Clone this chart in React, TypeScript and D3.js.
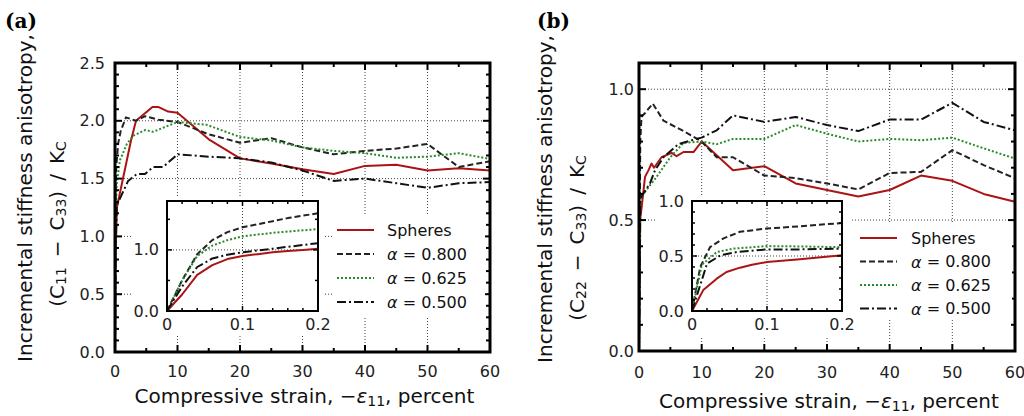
import React from 'react';
import * as d3 from 'd3';

type P = [number, number];

// ---------- data: panel (a) main ----------
const aSpheres: P[] = [[0,0],[0.1,0.9],[0.2,1.02],[0.3,1.25],[2.56,1.83],[3.36,2.0],[6.0,2.12],[6.9,2.12],[8.5,2.08],[10,2.07],[15,1.84],[20,1.675],[25,1.63],[30,1.58],[35,1.54],[40,1.61],[45,1.62],[50,1.57],[55,1.59],[60,1.57]];
const aAlpha800: P[] = [[0,0],[0.1,1.37],[0.2,1.6],[0.5,1.8],[0.9,1.91],[1.76,2.03],[3.36,2.0],[4.8,2.04],[6.9,2.01],[10,1.99],[14.9,1.885],[20,1.81],[25,1.85],[30,1.77],[35,1.71],[40,1.74],[45,1.76],[50,1.8],[55,1.6],[60,1.65]];
const aAlpha625: P[] = [[0,0],[0.1,1.22],[0.2,1.34],[0.3,1.47],[0.8,1.66],[1.9,1.8],[2.9,1.87],[4.8,1.92],[6.1,1.905],[10,1.99],[14.7,1.965],[20,1.86],[25,1.83],[30,1.77],[35,1.74],[40,1.72],[45,1.68],[50,1.69],[55,1.72],[60,1.67]];
const aAlpha500: P[] = [[0,0],[0.1,0.96],[0.2,1.11],[0.3,1.27],[2.1,1.48],[3.5,1.54],[4.8,1.54],[6.1,1.6],[7.7,1.6],[10,1.71],[15,1.69],[20,1.675],[25,1.64],[30,1.57],[35,1.48],[40,1.5],[45,1.46],[50,1.42],[55,1.46],[60,1.47]];

// ---------- data: panel (a) inset ----------
const aInSpheres: P[] = [[0,0],[0.02,0.27],[0.04,0.59],[0.06,0.75],[0.08,0.85],[0.1,0.9],[0.12,0.93],[0.14,0.96],[0.16,0.98],[0.18,1.0],[0.2,1.02]];
const aIn800: P[] = [[0,0],[0.02,0.5],[0.04,0.93],[0.06,1.16],[0.08,1.29],[0.1,1.37],[0.12,1.42],[0.14,1.47],[0.16,1.52],[0.18,1.56],[0.2,1.6]];
const aIn625: P[] = [[0,0],[0.02,0.5],[0.04,0.9],[0.06,1.07],[0.08,1.16],[0.1,1.22],[0.12,1.25],[0.14,1.28],[0.16,1.3],[0.18,1.32],[0.2,1.34]];
const aIn500: P[] = [[0,0],[0.02,0.4],[0.04,0.72],[0.06,0.86],[0.08,0.92],[0.1,0.96],[0.12,0.99],[0.14,1.02],[0.16,1.05],[0.18,1.08],[0.2,1.11]];

// ---------- data: panel (b) main ----------
const bSpheres: P[] = [[0,0],[0.2,0.506],[0.43,0.55],[0.96,0.665],[1.5,0.69],[2.0,0.716],[2.4,0.7],[3.6,0.74],[5.2,0.757],[6.0,0.744],[7.1,0.76],[8.7,0.76],[10,0.8],[15,0.69],[20,0.706],[25,0.64],[30,0.615],[35,0.59],[40,0.615],[45,0.67],[50,0.65],[55,0.6],[60,0.57]];
const bAlpha800: P[] = [[0,0],[0.2,0.8],[0.4,0.894],[1,0.91],[2.2,0.945],[3.9,0.88],[7.1,0.84],[10,0.8],[12.4,0.74],[15,0.74],[20,0.67],[25,0.66],[30,0.64],[35,0.617],[40,0.68],[45,0.684],[50,0.767],[55,0.71],[60,0.66]];
const bAlpha625: P[] = [[0,0],[0.2,0.58],[0.7,0.6],[2.8,0.665],[5,0.74],[7.1,0.795],[10,0.8],[12.4,0.79],[15,0.81],[20,0.81],[25,0.863],[30,0.83],[35,0.8],[40,0.81],[45,0.805],[50,0.815],[55,0.774],[60,0.735]];
const bAlpha500: P[] = [[0,0],[0.2,0.567],[0.4,0.59],[1.75,0.64],[2.55,0.69],[3.9,0.74],[6.3,0.79],[8.4,0.805],[10,0.815],[12.4,0.843],[15,0.9],[20,0.875],[25,0.894],[30,0.863],[35,0.84],[40,0.884],[45,0.884],[50,0.948],[55,0.875],[60,0.843]];

// ---------- data: panel (b) inset ----------
const bInSpheres: P[] = [[0,0],[0.015,0.19],[0.033,0.294],[0.046,0.355],[0.064,0.394],[0.08,0.42],[0.1,0.445],[0.144,0.47],[0.2,0.506]];
const bIn800: P[] = [[0,0],[0.011,0.4],[0.024,0.58],[0.042,0.66],[0.064,0.72],[0.1,0.75],[0.144,0.77],[0.2,0.8]];
const bIn625: P[] = [[0,0],[0.013,0.42],[0.033,0.536],[0.055,0.567],[0.1,0.59],[0.144,0.587],[0.2,0.58]];
const bIn500: P[] = [[0,0],[0.02,0.43],[0.038,0.506],[0.06,0.536],[0.1,0.56],[0.144,0.56],[0.2,0.567]];

// ---------- ticks & labels ----------
const mainXTicks = [0, 10, 20, 30, 40, 50, 60];
const aMainYTicks = [0, 0.5, 1.0, 1.5, 2.0, 2.5];
const bMainYTicks = [0, 0.5, 1.0];
const insetXTicks = [0, 0.1, 0.2];
const aInsetYLabels = [0, 1.0];
const bInsetYLabels = [0, 0.5, 1.0];
const legendLabels = ['Spheres', '0.800', '0.625', '0.500'];

const FONT = 'DejaVu Sans, sans-serif';

const STYLES = [
  { stroke: '#aa1414', dash: undefined as string | undefined, width: 2 },
  { stroke: '#222222', dash: '6,3', width: 2 },
  { stroke: '#2a8a2a', dash: '2,2', width: 2 },
  { stroke: '#111111', dash: '9,3,2,3', width: 2 },
];

function Ticks({ xs, ys, xMajor, xMinor, yMajor, yMinor, maj, min, w }: any) {
  const [x0, x1] = xs.range();
  const [y0, y1] = ys.range();
  const out: any[] = [];
  const push = (k: string, a: number, b: number, c: number, d: number) =>
    out.push(<line key={k} x1={a} y1={b} x2={c} y2={d} stroke="#000" strokeWidth={w} />);
  xMinor.forEach((v: number, i: number) => {
    const L = xMajor.some((m: number) => Math.abs(m - v) < 1e-9) ? maj : min;
    const x = xs(v);
    push('xb' + i, x, y0, x, y0 - L);
    push('xt' + i, x, y1, x, y1 + L);
  });
  yMinor.forEach((v: number, i: number) => {
    const L = yMajor.some((m: number) => Math.abs(m - v) < 1e-9) ? maj : min;
    const y = ys(v);
    push('yl' + i, x0, y, x0 + L, y);
    push('yr' + i, x1, y, x1 - L, y);
  });
  return <g>{out}</g>;
}

function Series({ data, xs, ys, idx }: any) {
  const line = d3.line<P>().x(d => xs(d[0])).y(d => ys(d[1]));
  const s = STYLES[idx];
  return <path d={line(data) || ''} fill="none" stroke={s.stroke} strokeWidth={s.width} strokeDasharray={s.dash} strokeLinejoin="round" />;
}

function Legend({ x, y0, dy, textX }: any) {
  return (
    <g fontFamily={FONT} fontSize={16} fill="#111">
      {legendLabels.map((lab, i) => {
        const s = STYLES[i];
        const y = y0 + i * dy;
        return (
          <g key={i}>
            <line x1={x} x2={x + 37} y1={y} y2={y} stroke={s.stroke} strokeWidth={s.width} strokeDasharray={s.dash} />
            <text x={textX} y={y} dominantBaseline="central">
              {i === 0 ? lab : (<><tspan fontStyle="italic">α</tspan>{' = ' + lab}</>)}
            </text>
          </g>
        );
      })}
    </g>
  );
}

function Panel({ cfg }: any) {
  const xs = d3.scaleLinear().domain([0, 60]).range([cfg.x0, cfg.x1]);
  const ys = d3.scaleLinear().domain([0, cfg.ymax]).range([cfg.y0, cfg.y1]);
  const ixs = d3.scaleLinear().domain([0, 0.2]).range([cfg.ix0, cfg.ix1]);
  const iys = d3.scaleLinear().domain([0, cfg.iymax]).range([cfg.iy0, cfg.iy1]);
  const fmt1 = d3.format('.1f');
  const gridX = [10, 20, 30, 40, 50];
  const gridY = cfg.yTicks.filter((v: number) => v > 0 && v < cfg.ymax - 1e-9);
  const yMinor = d3.range(0, cfg.ymax + 1e-9, 0.1).map((v: number) => +v.toFixed(3));
  const xMinor = d3.range(0, 60.001, 5);
  const ixMinor = d3.range(0, 0.2001, 0.02).map((v: number) => +v.toFixed(3));
  const iyMinor = d3.range(0, cfg.iymax + 1e-9, cfg.iyStep).map((v: number) => +v.toFixed(3));
  const dot = { stroke: '#444', strokeWidth: 1, strokeDasharray: '1,2' };
  return (
    <g>
      {gridX.map(v => <line key={'gx' + v} x1={xs(v)} x2={xs(v)} y1={cfg.y0} y2={cfg.y1} {...dot} />)}
      {gridY.map((v: number) => <line key={'gy' + v} x1={cfg.x0} x2={cfg.x1} y1={ys(v)} y2={ys(v)} {...dot} />)}
      {cfg.series.map((d: P[], i: number) => <Series key={i} data={d} xs={xs} ys={ys} idx={i} />)}
      <Ticks xs={xs} ys={ys} xMajor={mainXTicks} xMinor={xMinor} yMajor={cfg.yTicks} yMinor={yMinor} maj={7} min={4} w={2} />
      <rect x={cfg.x0} y={cfg.y1} width={cfg.x1 - cfg.x0} height={cfg.y0 - cfg.y1} fill="none" stroke="#000" strokeWidth={3} />
      <g fontFamily={FONT} fontSize={16} fill="#222">
        {mainXTicks.map(v => <text key={'xl' + v} x={xs(v)} y={cfg.xLabelY} textAnchor="middle">{v}</text>)}
        {cfg.yTicks.map((v: number) => <text key={'yl' + v} x={cfg.yLabelX} y={ys(v)} textAnchor="end" dominantBaseline="central">{fmt1(v)}</text>)}
      </g>
      <rect x={cfg.legBox[0]} y={cfg.legBox[1]} width={cfg.legBox[2]} height={cfg.legBox[3]} fill="#fff" />
      <Legend x={cfg.legX} y0={cfg.legY0} dy={cfg.legDy} textX={cfg.legTextX} />
      <rect x={cfg.inBox[0]} y={cfg.inBox[1]} width={cfg.inBox[2]} height={cfg.inBox[3]} fill="#fff" />
      <line x1={ixs(0.1)} x2={ixs(0.1)} y1={cfg.iy0} y2={cfg.iy1} {...dot} />
      <line x1={cfg.ix0} x2={cfg.ix1} y1={iys(cfg.iGridY)} y2={iys(cfg.iGridY)} {...dot} />
      {cfg.inset.map((d: P[], i: number) => <Series key={'in' + i} data={d} xs={ixs} ys={iys} idx={i} />)}
      <Ticks xs={ixs} ys={iys} xMajor={insetXTicks} xMinor={ixMinor} yMajor={cfg.iyLabels} yMinor={iyMinor} maj={5} min={3} w={1.5} />
      <rect x={cfg.ix0} y={cfg.iy1} width={cfg.ix1 - cfg.ix0} height={cfg.iy0 - cfg.iy1} fill="none" stroke="#000" strokeWidth={2} />
      <g fontFamily={FONT} fontSize={16} fill="#222">
        {insetXTicks.map(v => <text key={'ixl' + v} x={ixs(v)} y={cfg.iy0 + 19} textAnchor="middle">{v === 0 ? '0' : fmt1(v)}</text>)}
        {cfg.iyLabels.map((v: number) => <text key={'iyl' + v} x={cfg.ix0 - 8} y={iys(v)} textAnchor="end" dominantBaseline="central">{fmt1(v)}</text>)}
      </g>
      <text x={(cfg.x0 + cfg.x1) / 2 + cfg.xTitleDx} y={cfg.xTitleY} textAnchor="middle" fontFamily={FONT} fontSize={20} fill="#111">
        Compressive strain, −<tspan fontStyle="italic">ε</tspan><tspan fontSize={14} dy={3}>11</tspan><tspan dy={-3}>, percent</tspan>
      </text>
      <text transform={`translate(${cfg.yT1[0]},${cfg.yT1[1]}) rotate(-90)`} textAnchor="middle" dominantBaseline="central" fontFamily={FONT} fontSize={20} fill="#111">
        Incremental stiffness anisotropy,
      </text>
      <text transform={`translate(${cfg.yT2[0]},${cfg.yT2[1]}) rotate(-90)`} textAnchor="middle" dominantBaseline="central" fontFamily={FONT} fontSize={20} fill="#111">
        (C<tspan fontSize={14} dy={4}>{cfg.sub}</tspan><tspan dy={-4} dx={10}>−</tspan><tspan dx={10}>C</tspan><tspan fontSize={14} dy={4}>33</tspan><tspan dy={-4}>)</tspan><tspan dx={10}>/</tspan><tspan dx={10}>K</tspan><tspan fontSize={14} dy={4}>C</tspan>
      </text>
      <text x={cfg.tag[0]} y={cfg.tag[1]} fontFamily="DejaVu Serif, serif" fontWeight="bold" fontSize={20} fill="#000">{cfg.tagText}</text>
    </g>
  );
}

const cfgA = {
  x0: 115, x1: 490, y0: 352, y1: 63, ymax: 2.5, yTicks: aMainYTicks,
  series: [aSpheres, aAlpha800, aAlpha625, aAlpha500],
  inset: [aInSpheres, aIn800, aIn625, aIn500],
  ix0: 167, ix1: 318, iy0: 311, iy1: 201, iymax: 1.8, iyStep: 0.5, iyLabels: aInsetYLabels, iGridY: 1.0,
  inBox: [131, 196, 194, 140], legBox: [333, 215, 152, 101],
  legX: 337, legY0: 230, legDy: 24, legTextX: 387,
  xLabelY: 377, yLabelX: 105, xTitleY: 403, xTitleDx: 2,
  yT1: [25, 198], yT2: [57, 224], sub: '11', tag: [5, 28], tagText: '(a)',
};

const cfgB = {
  x0: 639, x1: 1015, y0: 351, y1: 63, ymax: 1.1, yTicks: bMainYTicks,
  series: [bSpheres, bAlpha800, bAlpha625, bAlpha500],
  inset: [bInSpheres, bIn800, bIn625, bIn500],
  ix0: 692, ix1: 842, iy0: 311, iy1: 201, iymax: 1.0, iyStep: 0.1, iyLabels: bInsetYLabels, iGridY: 0.5,
  inBox: [655, 196, 195, 140], legBox: [855, 224, 157, 96],
  legX: 860, legY0: 238, legDy: 23.5, legTextX: 911,
  xLabelY: 378, yLabelX: 634, xTitleY: 408, xTitleDx: 2,
  yT1: [545, 199], yT2: [577, 238], sub: '22', tag: [537, 28], tagText: '(b)',
};

export default function App() {
  return (
    <svg width={1024} height={416} style={{ position: 'absolute', left: 0, top: 0, background: '#fff' }}>
      <rect x={0} y={0} width={1024} height={416} fill="#fff" />
      <Panel cfg={cfgA} />
      <Panel cfg={cfgB} />
    </svg>
  );
}
